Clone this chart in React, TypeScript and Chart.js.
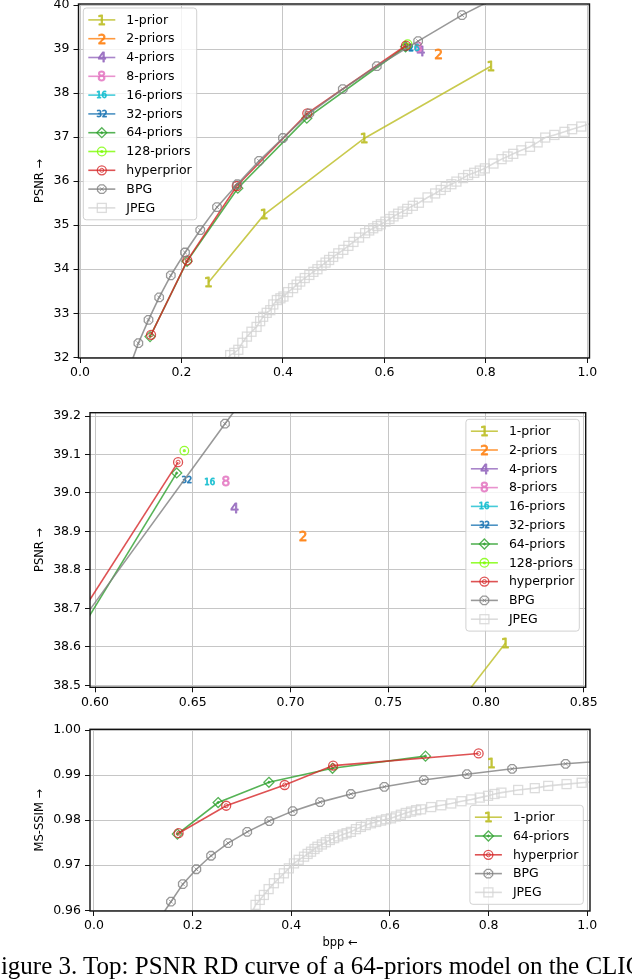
import React, { useEffect, useRef } from 'react';
import { Chart, registerables } from 'chart.js';

Chart.register(...registerables);

// ---------------- data (PSNR, CLIC) ----------------
const P1_BPP = [0.253, 0.363, 0.560, 0.810];
const P1_PSNR = [33.70, 35.24, 36.97, 38.61];
const P2_BPP = [0.7063];
const P2_PSNR = [38.887];
const P4_BPP = [0.6713];
const P4_PSNR = [38.961];
const P8_BPP = [0.667];
const P8_PSNR = [39.031];
const P16_BPP = [0.6588];
const P16_PSNR = [39.029];
const P32_BPP = [0.6469];
const P32_PSNR = [39.033];
const P64_BPP = [0.138, 0.211, 0.311, 0.447, 0.6418];
const P64_PSNR = [32.47, 34.18, 35.84, 37.43, 39.052];
const P128_BPP = [0.6457];
const P128_PSNR = [39.11];
const HYP_BPP = [0.140, 0.2115, 0.309, 0.448, 0.6425];
const HYP_PSNR = [32.51, 34.20, 35.89, 37.54, 39.08];
const BPG_BPP = [0.097, 0.115, 0.135, 0.156, 0.179, 0.207, 0.237, 0.270, 0.310, 0.353, 0.400, 0.452, 0.518, 0.585, 0.6665, 0.753, 0.860];
const BPG_PSNR = [31.75, 32.32, 32.85, 33.36, 33.86, 34.38, 34.89, 35.41, 35.93, 36.46, 36.98, 37.54, 38.09, 38.61, 39.18, 39.77, 40.40];
const JPEG_BPP = [0.280, 0.296, 0.304, 0.312, 0.320, 0.329, 0.338, 0.348, 0.355, 0.361, 0.368, 0.375, 0.381, 0.388, 0.395, 0.401, 0.410, 0.420, 0.427, 0.434, 0.443, 0.452, 0.460, 0.468, 0.476, 0.484, 0.491, 0.499, 0.509, 0.519, 0.529, 0.539, 0.550, 0.562, 0.570, 0.578, 0.586, 0.593, 0.602, 0.610, 0.618, 0.627, 0.636, 0.645, 0.656, 0.668, 0.685, 0.700, 0.711, 0.721, 0.732, 0.742, 0.755, 0.765, 0.777, 0.788, 0.798, 0.815, 0.831, 0.843, 0.854, 0.870, 0.887, 0.902, 0.917, 0.935, 0.955, 0.970, 0.988, 1.020];
const JPEG_PSNR = [31.80, 32.05, 32.10, 32.17, 32.33, 32.47, 32.58, 32.69, 32.82, 32.92, 33.01, 33.07, 33.20, 33.30, 33.34, 33.38, 33.48, 33.57, 33.65, 33.72, 33.80, 33.87, 33.94, 34.00, 34.08, 34.15, 34.21, 34.28, 34.36, 34.44, 34.53, 34.62, 34.72, 34.82, 34.88, 34.93, 34.98, 35.02, 35.08, 35.14, 35.20, 35.26, 35.31, 35.37, 35.44, 35.51, 35.63, 35.72, 35.80, 35.87, 35.93, 35.99, 36.07, 36.14, 36.19, 36.24, 36.29, 36.40, 36.50, 36.56, 36.62, 36.70, 36.78, 36.88, 36.99, 37.05, 37.12, 37.18, 37.24, 37.36];

// ---------------- data (MS-SSIM) ----------------
const P1_BPP_MS = [0.8055];
const P1_MSSSIM = [0.9927];
const P64_BPP_MS = [0.169, 0.2516, 0.3546, 0.4835, 0.672];
const P64_MSSSIM = [0.9769, 0.9839, 0.9884, 0.9915, 0.9942];
const HYP_BPP_MS = [0.1715, 0.268, 0.3865, 0.4848, 0.7797];
const HYP_MSSSIM = [0.9771, 0.9832, 0.9878, 0.9921, 0.9948];
const BPG_BPP_MS = [0.135, 0.156, 0.180, 0.2075, 0.2373, 0.2719, 0.3106, 0.3553, 0.4028, 0.4584, 0.5208, 0.5885, 0.6686, 0.756, 0.8476, 0.956, 1.08];
const BPG_MSSSIM = [0.9585, 0.9619, 0.9658, 0.9691, 0.9721, 0.9749, 0.9774, 0.9798, 0.9820, 0.9840, 0.9858, 0.9874, 0.9889, 0.9902, 0.9914, 0.9925, 0.9935];
const JPEG_BPP_MS = [0.312, 0.3275, 0.336, 0.3444, 0.354, 0.3647, 0.375, 0.385, 0.395, 0.4054, 0.415, 0.4258, 0.433, 0.440, 0.447, 0.453, 0.462, 0.470, 0.478, 0.4868, 0.495, 0.504, 0.512, 0.5208, 0.531, 0.541, 0.551, 0.5614, 0.572, 0.582, 0.592, 0.602, 0.612, 0.622, 0.632, 0.6428, 0.653, 0.663, 0.6835, 0.704, 0.7242, 0.745, 0.7649, 0.782, 0.7989, 0.812, 0.8259, 0.8599, 0.8936, 0.9208, 0.958, 0.9886, 1.03];
const JPEG_MSSSIM = [0.9575, 0.9612, 0.9623, 0.9634, 0.9647, 0.9660, 0.9671, 0.9682, 0.9693, 0.9704, 0.9712, 0.9719, 0.9725, 0.9730, 0.9736, 0.9741, 0.9746, 0.9751, 0.9756, 0.9760, 0.9764, 0.9768, 0.9771, 0.9774, 0.9780, 0.9785, 0.9789, 0.9793, 0.9796, 0.9799, 0.9802, 0.9804, 0.9808, 0.9812, 0.9816, 0.9819, 0.9822, 0.9824, 0.9829, 0.9833, 0.9837, 0.9842, 0.9846, 0.9850, 0.9854, 0.9858, 0.9861, 0.9867, 0.9871, 0.9876, 0.9880, 0.9883, 0.9887];

// ---------------- ticks ----------------
const TOP_X_TICKS = [0.0, 0.2, 0.4, 0.6, 0.8, 1.0];
const TOP_Y_TICKS = [32, 33, 34, 35, 36, 37, 38, 39, 40];
const MID_X_TICKS = [0.60, 0.65, 0.70, 0.75, 0.80, 0.85];
const MID_Y_TICKS = [38.5, 38.6, 38.7, 38.8, 38.9, 39.0, 39.1, 39.2];
const BOT_X_TICKS = [0.0, 0.2, 0.4, 0.6, 0.8, 1.0];
const BOT_Y_TICKS = [0.96, 0.97, 0.98, 0.99, 1.00];

const CAPTION = 'Figure 3. Top: PSNR RD curve of a 64-priors model on the CLIC';

// ---------------- styling ----------------
const FONT = 'DejaVu Sans';
const TICK_FS = 12.5;
const TITLE_FS = 11.5;
const LEG_FS = 12.5;
const LW = 1.6;

type Mk = { t: string; s?: string };

const STYLE: Record<string, { color: string; mk: Mk }> = {
  '1-prior': { color: 'rgba(188,189,34,0.8)', mk: { t: 'text', s: '1' } },
  '2-priors': { color: 'rgba(255,127,14,0.8)', mk: { t: 'text', s: '2' } },
  '4-priors': { color: 'rgba(148,103,189,0.8)', mk: { t: 'text', s: '4' } },
  '8-priors': { color: 'rgba(227,119,194,0.8)', mk: { t: 'text', s: '8' } },
  '16-priors': { color: 'rgba(23,190,207,0.8)', mk: { t: 'text', s: '16' } },
  '32-priors': { color: 'rgba(31,119,180,0.8)', mk: { t: 'text', s: '32' } },
  '64-priors': { color: 'rgba(44,160,44,0.8)', mk: { t: 'diamond' } },
  '128-priors': { color: 'rgba(124,252,0,0.8)', mk: { t: 'ringdot' } },
  'hyperprior': { color: 'rgba(214,39,40,0.8)', mk: { t: 'ring2' } },
  'BPG': { color: 'rgba(127,127,127,0.8)', mk: { t: 'ringx' } },
  'JPEG': { color: 'rgba(211,211,211,0.8)', mk: { t: 'square' } },
};

function drawMarker(ctx: CanvasRenderingContext2D, mk: Mk, x: number, y: number, color: string) {
  ctx.save();
  ctx.strokeStyle = color;
  ctx.fillStyle = color;
  ctx.lineWidth = 1.3;
  if (mk.t === 'text') {
    const base = 20;
    ctx.font = `${base}px "${FONT}"`;
    ctx.textAlign = 'left';
    ctx.textBaseline = 'alphabetic';
    const m = ctx.measureText(mk.s || '');
    const w = m.actualBoundingBoxLeft + m.actualBoundingBoxRight;
    const h = m.actualBoundingBoxAscent + m.actualBoundingBoxDescent;
    const sc = 9.6 / Math.max(w, h);
    const cx = (m.actualBoundingBoxRight - m.actualBoundingBoxLeft) / 2;
    const cy = (m.actualBoundingBoxDescent - m.actualBoundingBoxAscent) / 2;
    ctx.translate(x, y);
    ctx.scale(sc, sc);
    ctx.lineWidth = 0.9 / sc;
    ctx.lineJoin = 'round';
    ctx.fillText(mk.s || '', -cx, -cy);
    ctx.strokeText(mk.s || '', -cx, -cy);
  } else if (mk.t === 'diamond') {
    const r = 5;
    ctx.beginPath();
    ctx.moveTo(x, y - r); ctx.lineTo(x + r, y); ctx.lineTo(x, y + r); ctx.lineTo(x - r, y); ctx.closePath();
    ctx.stroke();
    const q = 1.8;
    ctx.beginPath();
    ctx.moveTo(x, y - q); ctx.lineTo(x + q, y); ctx.lineTo(x, y + q); ctx.lineTo(x - q, y); ctx.closePath();
    ctx.fill();
  } else if (mk.t === 'ring2') {
    ctx.beginPath(); ctx.arc(x, y, 4.5, 0, Math.PI * 2); ctx.stroke();
    ctx.lineWidth = 1;
    ctx.beginPath(); ctx.arc(x, y, 2, 0, Math.PI * 2); ctx.stroke();
  } else if (mk.t === 'ringdot') {
    ctx.beginPath(); ctx.arc(x, y, 4.3, 0, Math.PI * 2); ctx.stroke();
    ctx.beginPath(); ctx.arc(x, y, 1.6, 0, Math.PI * 2); ctx.fill();
  } else if (mk.t === 'ringx') {
    ctx.beginPath();
    for (let k = 0; k < 8; k++) {
      const a = Math.PI / 8 + (k * Math.PI) / 4;
      const px = x + 4.6 * Math.cos(a), py = y + 4.6 * Math.sin(a);
      if (k === 0) ctx.moveTo(px, py); else ctx.lineTo(px, py);
    }
    ctx.closePath(); ctx.stroke();
    ctx.lineWidth = 1;
    const d = 1.8;
    ctx.beginPath();
    ctx.moveTo(x - d, y - d); ctx.lineTo(x + d, y + d);
    ctx.moveTo(x - d, y + d); ctx.lineTo(x + d, y - d);
    ctx.stroke();
  } else if (mk.t === 'square') {
    ctx.lineWidth = 1.3;
    ctx.strokeRect(x - 4.5, y - 4.5, 9, 9);
  }
  ctx.restore();
}

const markerPlugin = {
  id: 'mplMarkers',
  afterDatasetDraw(chart: any, args: any) {
    const ds = chart.data.datasets[args.index];
    const a = chart.chartArea;
    const ctx = chart.ctx as CanvasRenderingContext2D;
    ctx.save();
    ctx.beginPath();
    ctx.rect(a.left, a.top, a.right - a.left, a.bottom - a.top);
    ctx.clip();
    for (const el of args.meta.data) {
      if (!el || !isFinite(el.x) || !isFinite(el.y)) continue;
      drawMarker(ctx, ds.mk, el.x, el.y, ds.borderColor);
    }
    ctx.restore();
  },
};

const framePlugin = {
  id: 'mplFrame',
  afterDatasetsDraw(chart: any) {
    const a = chart.chartArea;
    const ctx = chart.ctx as CanvasRenderingContext2D;
    ctx.save();
    ctx.strokeStyle = '#111';
    ctx.lineWidth = 1.4;
    ctx.strokeRect(a.left, a.top, a.right - a.left, a.bottom - a.top);
    ctx.restore();
  },
};

const legendPlugin = {
  id: 'mplLegend',
  afterDraw(chart: any, _args: any, opts: any) {
    const ctx = chart.ctx as CanvasRenderingContext2D;
    const a = chart.chartArea;
    const items = chart.data.datasets;
    ctx.save();
    ctx.font = `${LEG_FS}px "${FONT}"`;
    let tw = 0;
    for (const d of items) tw = Math.max(tw, ctx.measureText(d.label).width);
    const padX = 5, lineLen = 27, gap = 11, rowH = 18.8, padY = 2.5;
    const w = padX + lineLen + gap + tw + padX;
    const h = items.length * rowH + 2 * padY;
    let x0 = a.left + opts.dx;
    let y0 = a.top + opts.dy;
    if (opts.corner === 'ur' || opts.corner === 'lr') x0 = a.right - opts.dx - w;
    if (opts.corner === 'lr') y0 = a.bottom - opts.dy - h;
    ctx.beginPath();
    (ctx as any).roundRect(x0, y0, w, h, 3);
    ctx.fillStyle = 'rgba(255,255,255,0.8)';
    ctx.fill();
    ctx.strokeStyle = 'rgba(204,204,204,0.9)';
    ctx.lineWidth = 1;
    ctx.stroke();
    items.forEach((d: any, i: number) => {
      const cy = y0 + padY + rowH * (i + 0.5);
      const lx = x0 + padX;
      ctx.strokeStyle = d.borderColor;
      ctx.lineWidth = LW;
      ctx.beginPath();
      ctx.moveTo(lx, cy);
      ctx.lineTo(lx + lineLen, cy);
      ctx.stroke();
      drawMarker(ctx, d.mk, lx + lineLen / 2, cy, d.borderColor);
      ctx.fillStyle = '#000';
      ctx.textBaseline = 'middle';
      ctx.textAlign = 'left';
      ctx.font = `${LEG_FS}px "${FONT}"`;
      ctx.fillText(d.label, lx + lineLen + gap, cy + 0.5);
    });
    ctx.restore();
  },
};

type Series = { label: string; xs: number[]; ys: number[] };

type PanelSpec = {
  top: number;
  height: number;
  area: { left: number; top: number; right: number; bottom: number };
  padBottom: number;
  x: [number, number];
  y: [number, number];
  xTicks: number[];
  yTicks: number[];
  xDec: number;
  yDec: number;
  yTitle: string;
  xTitle?: string;
  series: Series[];
  legend: { corner: string; dx: number; dy: number };
};

function makeConfig(p: PanelSpec): any {
  const titleLH = TITLE_FS * 1.2;
  const padLeft = 40 - (4 + titleLH / 2);
  const yW = p.area.left - padLeft;
  const xH = p.height - p.padBottom - p.area.bottom;
  const n = p.series.length;
  return {
    type: 'line',
    data: {
      datasets: p.series.map((s, i) => ({
        label: s.label,
        data: s.xs.map((x, k) => ({ x, y: s.ys[k] })),
        borderColor: STYLE[s.label].color,
        backgroundColor: STYLE[s.label].color,
        borderWidth: LW,
        pointRadius: 0,
        pointHoverRadius: 0,
        fill: false,
        tension: 0,
        clip: 0,
        order: n - i,
        mk: STYLE[s.label].mk,
      })),
    },
    options: {
      animation: false,
      responsive: false,
      maintainAspectRatio: false,
      events: [],
      layout: { padding: { left: padLeft, top: p.area.top, right: 632 - p.area.right, bottom: p.padBottom } },
      plugins: {
        legend: { display: false },
        tooltip: { enabled: false },
        mplLegend: p.legend,
      },
      scales: {
        x: {
          type: 'linear',
          min: p.x[0],
          max: p.x[1],
          afterBuildTicks: (sc: any) => { sc.ticks = p.xTicks.map((v) => ({ value: v })); },
          afterFit: (sc: any) => { sc.height = xH; sc.paddingLeft = 0; sc.paddingRight = 0; },
          ticks: {
            callback: (v: any) => Number(v).toFixed(p.xDec),
            font: { family: FONT, size: TICK_FS },
            color: '#000',
            padding: 2.5,
            maxRotation: 0,
            autoSkip: false,
          },
          grid: { color: '#c6c6c6', lineWidth: 1, drawTicks: true, tickLength: 5, tickColor: '#111', tickWidth: 1 },
          border: { display: false },
          title: p.xTitle
            ? { display: true, text: p.xTitle, color: '#000', font: { family: FONT, size: TITLE_FS }, padding: { top: 4, bottom: 4 } }
            : { display: false },
        },
        y: {
          type: 'linear',
          min: p.y[0],
          max: p.y[1],
          afterBuildTicks: (sc: any) => { sc.ticks = p.yTicks.map((v) => ({ value: v })); },
          afterFit: (sc: any) => { sc.width = yW; sc.paddingTop = 0; sc.paddingBottom = 0; },
          ticks: {
            callback: (v: any) => Number(v).toFixed(p.yDec),
            font: { family: FONT, size: TICK_FS },
            color: '#000',
            padding: 4,
            autoSkip: false,
          },
          grid: { color: '#c6c6c6', lineWidth: 1, drawTicks: true, tickLength: 5, tickColor: '#111', tickWidth: 1 },
          border: { display: false },
          title: { display: true, text: p.yTitle, color: '#000', font: { family: FONT, size: TITLE_FS }, padding: { top: 4, bottom: 4 } },
        },
      },
    },
    plugins: [markerPlugin, framePlugin, legendPlugin],
  };
}

const PSNR_SERIES: Series[] = [
  { label: '1-prior', xs: P1_BPP, ys: P1_PSNR },
  { label: '2-priors', xs: P2_BPP, ys: P2_PSNR },
  { label: '4-priors', xs: P4_BPP, ys: P4_PSNR },
  { label: '8-priors', xs: P8_BPP, ys: P8_PSNR },
  { label: '16-priors', xs: P16_BPP, ys: P16_PSNR },
  { label: '32-priors', xs: P32_BPP, ys: P32_PSNR },
  { label: '64-priors', xs: P64_BPP, ys: P64_PSNR },
  { label: '128-priors', xs: P128_BPP, ys: P128_PSNR },
  { label: 'hyperprior', xs: HYP_BPP, ys: HYP_PSNR },
  { label: 'BPG', xs: BPG_BPP, ys: BPG_PSNR },
  { label: 'JPEG', xs: JPEG_BPP, ys: JPEG_PSNR },
];

const MS_SERIES: Series[] = [
  { label: '1-prior', xs: P1_BPP_MS, ys: P1_MSSSIM },
  { label: '64-priors', xs: P64_BPP_MS, ys: P64_MSSSIM },
  { label: 'hyperprior', xs: HYP_BPP_MS, ys: HYP_MSSSIM },
  { label: 'BPG', xs: BPG_BPP_MS, ys: BPG_MSSSIM },
  { label: 'JPEG', xs: JPEG_BPP_MS, ys: JPEG_MSSSIM },
];

const PANELS: PanelSpec[] = [
  {
    top: 0, height: 385,
    area: { left: 78.5, top: 4, right: 589.5, bottom: 358 },
    padBottom: 0,
    x: [-0.003, 1.0043], y: [31.984, 40.023],
    xTicks: TOP_X_TICKS, yTicks: TOP_Y_TICKS, xDec: 1, yDec: 0,
    yTitle: 'PSNR →',
    series: PSNR_SERIES,
    legend: { corner: 'ul', dx: 4.8, dy: 4 },
  },
  {
    top: 400, height: 310,
    area: { left: 90, top: 12.7, right: 585.7, bottom: 287.3 },
    padBottom: 0,
    x: [0.59744, 0.85102], y: [38.4948, 39.2086],
    xTicks: MID_X_TICKS, yTicks: MID_Y_TICKS, xDec: 2, yDec: 1,
    yTitle: 'PSNR →',
    series: PSNR_SERIES,
    legend: { corner: 'ur', dx: 6.4, dy: 6.6 },
  },
  {
    top: 715, height: 245,
    area: { left: 90, top: 14.3, right: 590, bottom: 196 },
    padBottom: 5.8,
    x: [-0.0081, 1.0055], y: [0.95984, 1.00016],
    xTicks: BOT_X_TICKS, yTicks: BOT_Y_TICKS, xDec: 1, yDec: 2,
    yTitle: 'MS-SSIM →',
    xTitle: 'bpp ←',
    series: MS_SERIES,
    legend: { corner: 'lr', dx: 6.7, dy: 6.7 },
  },
];

function Panel({ spec }: { spec: PanelSpec }) {
  const ref = useRef<HTMLCanvasElement>(null);
  useEffect(() => {
    if (!ref.current) return;
    const chart = new Chart(ref.current, makeConfig(spec));
    return () => chart.destroy();
  }, [spec]);
  return (
    <canvas
      ref={ref}
      width={632}
      height={spec.height}
      style={{ position: 'absolute', left: 0, top: spec.top, width: 632, height: spec.height }}
    />
  );
}

export default function App() {
  return (
    <div style={{ position: 'absolute', left: 0, top: 0, width: 632, height: 980, overflow: 'hidden', background: '#fff' }}>
      {PANELS.map((p, i) => (
        <Panel key={i} spec={p} />
      ))}
      <div
        style={{
          position: 'absolute',
          left: -13,
          top: 953,
          whiteSpace: 'nowrap',
          fontFamily: '"Liberation Serif", "Times New Roman", serif',
          fontSize: 25,
          lineHeight: '25px',
          color: '#000',
        }}
      >
        {CAPTION}
      </div>
    </div>
  );
}
